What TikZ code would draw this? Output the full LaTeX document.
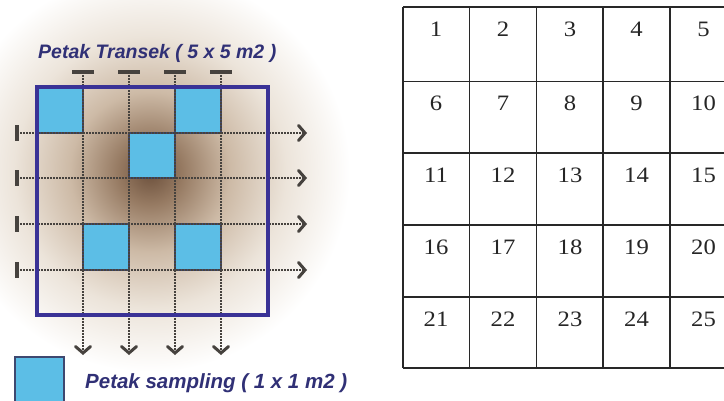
\documentclass[tikz,border=0pt]{standalone}
\usepackage{fontspec}
\setmainfont{Liberation Serif}
\newfontfamily\arialf{Liberation Sans}
\usetikzlibrary{arrows.meta}
\definecolor{frameblue}{RGB}{58,50,150}
\definecolor{cellblue}{RGB}{92,190,230}
\definecolor{celledge}{RGB}{62,72,112}
\definecolor{dotgrey}{RGB}{70,66,62}
\definecolor{titleblue}{RGB}{48,48,118}
\definecolor{gridgrey}{RGB}{40,40,40}
\definecolor{brownc}{RGB}{108,80,60}
\definecolor{brownd}{RGB}{150,122,98}
\definecolor{brownm}{RGB}{205,186,166}
\definecolor{brownl}{RGB}{236,228,218}
\pgfdeclareradialshading{spot}{\pgfpoint{0bp}{0bp}}{color(0bp)=(brownc); color(4bp)=(brownd); color(10bp)=(brownm); color(17bp)=(brownl); color(25bp)=(white); color(50bp)=(white)}
\tikzset{
  transect/.style={dotgrey, line width=2pt, dash pattern=on 1.6pt off 1.4pt,
    -{Straight Barb[length=6.5pt,width=15pt,line width=3pt,line cap=round]}},
  tbar/.style={dotgrey, line width=3.4pt},
  samplecell/.style={fill=cellblue, draw=celledge, line width=2pt},
  plotframe/.style={draw=frameblue, line width=3.6pt},
  labeltext/.style={text=titleblue, inner sep=0pt},
  gridline/.style={gridgrey, line width=1.8pt},
  numtext/.style={font=\fontsize{22}{24}\selectfont, text=black!85, inner sep=0pt}
}
\begin{document}
\begin{tikzpicture}[x=1pt,y=-1pt]
\useasboundingbox (0,0) rectangle (724,401);
\fill[white] (0,0) rectangle (724,401);
% background glow
\shade[shading=spot] (150,172) circle (200);
% sampling cells
\filldraw[samplecell] (37,87) rectangle (83,133);
\filldraw[samplecell] (175,87) rectangle (221,133);
\filldraw[samplecell] (129,133) rectangle (175,178);
\filldraw[samplecell] (83,224) rectangle (129,270);
\filldraw[samplecell] (175,224) rectangle (221,270);
% vertical transects
\foreach \i/\x in {1/83,2/129,3/175,4/221}{
  \coordinate (vt\i) at (\x,72);
  \coordinate (vb\i) at (\x,355);
  \draw[transect] (vt\i) -- (vb\i);
  \draw[tbar] ([xshift=-11pt]vt\i) -- ([xshift=11pt]vt\i);
}
% horizontal transects
\foreach \i/\y in {1/133,2/178,3/224,4/270}{
  \coordinate (hl\i) at (17,\y);
  \coordinate (hr\i) at (307,\y);
  \draw[transect] (hl\i) -- (hr\i);
  \draw[tbar] ([yshift=-8pt]hl\i) -- ([yshift=8pt]hl\i);
}
% frame
\draw[plotframe] (37,87) rectangle (268,315);
% title
\node[labeltext, font=\arialf\bfseries\itshape\fontsize{19.5}{21}\selectfont, anchor=west] (title) at (38,53) {Petak Transek ( 5 x 5 m2 )};
% legend
\filldraw[samplecell] (15,357) rectangle (64,406);
\node[labeltext, font=\arialf\bfseries\itshape\fontsize{20.5}{22}\selectfont, anchor=west] (legend) at (85,383) {Petak sampling ( 1 x 1 m2 )};
% table
\begin{scope}
\clip (0,0) rectangle (724,401);
\foreach \x in {403,469.5,536.5,603,670,737}{
  \draw[gridline] (\x,7) -- (\x,368);
}
\foreach \y in {7,81.5,153,225,297,368}{
  \draw[gridline] (403,\y) -- (737,\y);
}
\end{scope}
\foreach \r/\y in {0/29,1/103.5,2/175,3/247,4/319}{
  \foreach \c/\x in {1/436,2/503,3/570,4/636.5,5/703.5}{
    \pgfmathtruncatemacro{\n}{\r*5+\c}
    \node[numtext] (n\n) at (\x,\y) {\scalebox{1.12}[1]{\n}};
  }
}
\end{tikzpicture}
\end{document}
